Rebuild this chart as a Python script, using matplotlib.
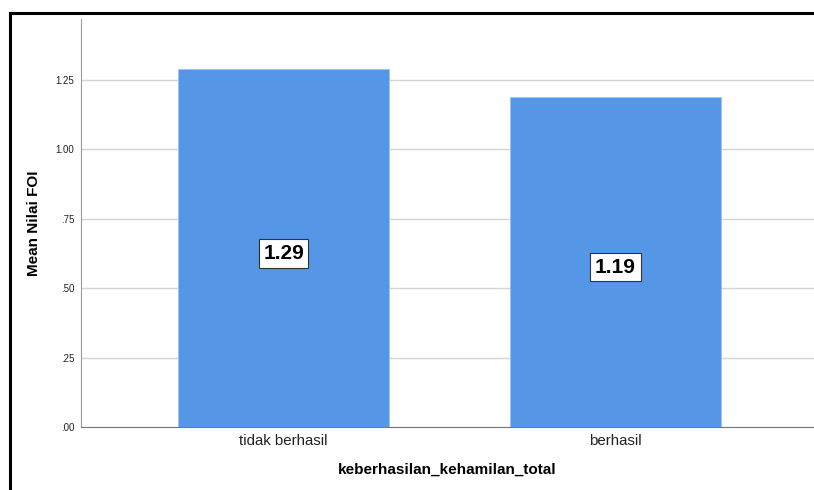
import matplotlib
matplotlib.use('Agg')
import matplotlib.pyplot as plt
from matplotlib.lines import Line2D

# data
categories = ['tidak berhasil', 'berhasil']
means = [1.29, 1.19]
yticks = [0.0, 0.25, 0.5, 0.75, 1.0, 1.25]
ytick_labels = ['.00', '.25', '.50', '.75', '1.00', '1.25']

plt.rcParams['font.family'] = ['Liberation Sans', 'DejaVu Sans']

fig = plt.figure(figsize=(8.14, 4.9), dpi=100)
ax = fig.add_axes([81/814, 63/490, 1 - 81/814, 408/490])

x = list(range(len(categories)))
ax.bar(x, means, width=0.636, color='#5596E6', edgecolor='#9cc3f2', linewidth=0.6, zorder=3)

for xi, v in zip(x, means):
    ax.text(xi, v/2 - 0.02, f'{v:.2f}', ha='center', va='center', fontsize=15,
            fontweight='bold', zorder=4,
            bbox=dict(boxstyle='square,pad=0.22', facecolor='white', edgecolor='#333333', linewidth=0.8))

ax.set_xlim(-0.61, 1.598)
ax.set_ylim(0, 1.47)
ax.set_yticks(yticks)
ax.set_yticklabels(ytick_labels, fontsize=7)
ax.set_xticks(x)
ax.set_xticklabels(categories, fontsize=10.8)
ax.tick_params(axis='both', length=0, colors='#222222')
ax.tick_params(axis='y', pad=5)
ax.tick_params(axis='x', pad=5)
ax.yaxis.grid(True, color='#d4d4d4', linewidth=1)
ax.set_axisbelow(True)

for s in ['top', 'right']:
    ax.spines[s].set_visible(False)
ax.spines['left'].set_color('#999999')
ax.spines['bottom'].set_color('#777777')

ax.set_xlabel('keberhasilan_kehamilan_total', fontsize=11, fontweight='bold')
ax.xaxis.set_label_coords(0.5, -0.088)
ax.set_ylabel('Mean Nilai FOI', fontsize=11, fontweight='bold')
ax.yaxis.set_label_coords(-0.054, 0.5)

# outer black frame (top and left only)
fig.add_artist(Line2D([10/814, 1], [1 - 13/490, 1 - 13/490], color='black', linewidth=2.2, transform=fig.transFigure))
fig.add_artist(Line2D([10/814, 10/814], [0, 1 - 13/490], color='black', linewidth=2.2, transform=fig.transFigure))

fig.savefig('out.png', dpi=100)
